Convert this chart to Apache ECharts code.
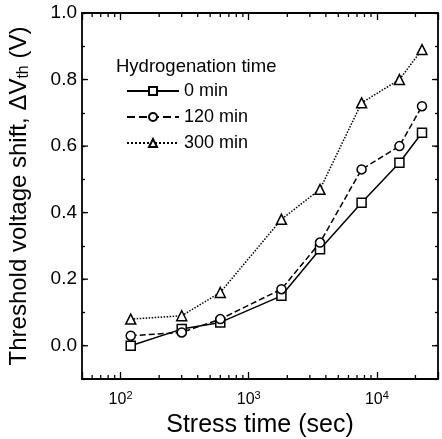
<!DOCTYPE html>
<html>
<head>
<meta charset="utf-8">
<script src="https://cdn.jsdelivr.net/npm/echarts@6/dist/echarts.min.js"></script>
<style>
  html, body { margin: 0; padding: 0; background: #fff; }
  #chart { width: 442px; height: 439px; }
</style>
</head>
<body>
<div id="chart"></div>
<script>
// stress time (sec) and threshold voltage shift (V)
var stressTime = [120, 300, 600, 1800, 3600, 7600, 15000, 22500];
var shift0 = [0.00, 0.05, 0.07, 0.15, 0.29, 0.43, 0.55, 0.64];
var shift120 = [0.03, 0.04, 0.08, 0.17, 0.31, 0.53, 0.60, 0.72];
var shift300 = [0.08, 0.09, 0.16, 0.38, 0.47, 0.73, 0.80, 0.89];
var seriesNames = ["0 min", "120 min", "300 min"];
// minor ticks on the log axis, and labelled ticks on the value axis
var xMinorTicks = [60, 70, 80, 90, 200, 300, 400, 500, 600, 700, 800, 900,
  2000, 3000, 4000, 5000, 6000, 7000, 8000, 9000, 20000];
var yMajorTicks = [0.0, 0.2, 0.4, 0.6, 0.8];

var FONT = "Liberation Sans";
var myChart = echarts.init(document.getElementById("chart"));

function pairs(ys) {
  var out = [];
  for (var i = 0; i < stressTime.length; i++) out.push([stressTime[i], ys[i]]);
  return out;
}

function mkSeries(name, ys, lineType, symbol, size) {
  return {
    name: name,
    type: "line",
    data: pairs(ys),
    symbol: symbol,
    symbolSize: size,
    lineStyle: { color: "#000", width: 1.5, type: lineType },
    itemStyle: { color: "#fff", borderColor: "#000", borderWidth: 1.5 },
    emphasis: { disabled: true },
    z: 3,
  };
}

function tick(x1, y1, x2, y2) {
  return { type: "line", shape: { x1: x1, y1: y1, x2: x2, y2: y2 }, style: { stroke: "#000", lineWidth: 1.3 } };
}

var frameLine = { onZero: false, lineStyle: { color: "#000", width: 1.8 } };

var option = {
  animation: false,
  backgroundColor: "#fff",
  textStyle: { fontFamily: FONT },
  title: {
    text: "Hydrogenation time",
    left: 111,
    top: 52,
    textStyle: { fontFamily: FONT, fontSize: 18.5, fontWeight: "normal", color: "#000" },
  },
  legend: {
    data: seriesNames,
    orient: "vertical",
    left: 121,
    top: 77,
    itemWidth: 52,
    itemHeight: 10,
    itemGap: 8,
    textStyle: { fontFamily: FONT, fontSize: 18, color: "#000", padding: [0, 0, 0, 0] },
    selectedMode: false,
  },
  grid: { left: 82, right: 4, top: 13, bottom: 60, outerBoundsMode: "none" },
  xAxis: [
    {
      type: "log",
      logBase: 10,
      min: 50,
      max: 30000,
      name: "Stress time (sec)",
      nameLocation: "middle",
      nameGap: 33,
      nameTextStyle: { fontFamily: FONT, fontSize: 25, color: "#000" },
      axisLine: frameLine,
      axisTick: { inside: true, length: 7, lineStyle: { color: "#000", width: 1.3 } },
      splitLine: { show: false },
      axisLabel: {
        margin: 11,
        color: "#000",
        fontFamily: FONT,
        fontSize: 16,
        formatter: function (v) {
          var e = Math.round(Math.log10(v));
          if (Math.abs(Math.pow(10, e) - v) > 1e-6 * v) return "";
          return "10{sup|" + e + "}";
        },
        rich: {
          sup: { fontFamily: FONT, fontSize: 11, verticalAlign: "top", padding: [0, 0, 9, 0], color: "#000" },
        },
      },
    },
    {
      type: "log",
      logBase: 10,
      min: 50,
      max: 30000,
      position: "top",
      axisLine: frameLine,
      axisTick: { inside: true, length: 7, lineStyle: { color: "#000", width: 1.3 } },
      axisLabel: { show: false },
      splitLine: { show: false },
    },
  ],
  yAxis: [
    {
      type: "value",
      min: -0.1,
      max: 1.0,
      interval: 0.1,
      name: "Threshold voltage shift, \u0394V{sub|th} (V)",
      nameLocation: "middle",
      nameRotate: 90,
      nameGap: 50,
      nameTextStyle: {
        fontFamily: FONT,
        fontSize: 24,
        color: "#000",
        rich: {
          sub: { fontFamily: FONT, fontSize: 16, color: "#000", verticalAlign: "bottom", padding: [10, 0, 0, 0] },
        },
      },
      axisLine: frameLine,
      axisTick: { inside: true, length: 3, lineStyle: { color: "#000", width: 1.3 } },
      splitLine: { show: false },
      axisLabel: {
        margin: 5,
        color: "#000",
        fontFamily: FONT,
        fontSize: 19,
        formatter: function (v) {
          var k = Math.round(v * 10);
          if (k < 0 || k % 2 !== 0) return "";
          return (k / 10).toFixed(1);
        },
      },
    },
    {
      type: "value",
      min: -0.1,
      max: 1.0,
      interval: 0.1,
      position: "right",
      axisLine: frameLine,
      axisTick: { inside: true, length: 3, lineStyle: { color: "#000", width: 1.3 } },
      axisLabel: { show: false },
      splitLine: { show: false },
    },
  ],
  series: [
    mkSeries(seriesNames[0], shift0, "solid", "rect", 9),
    mkSeries(seriesNames[1], shift120, "dashed", "circle", 9),
    mkSeries(seriesNames[2], shift300, "dotted", "triangle", 10),
    {
      // log minor ticks on bottom and top of the frame
      type: "custom",
      silent: true,
      data: xMinorTicks.map(function (v) { return [v, 0]; }),
      renderItem: function (params, api) {
        var cs = params.coordSys;
        var x = api.coord([api.value(0), 0])[0];
        var yb = cs.y + cs.height;
        return {
          type: "group",
          children: [tick(x, yb, x, yb - 4), tick(x, cs.y, x, cs.y + 4)],
        };
      },
      z: 2,
    },
    {
      // longer ticks at the labelled values, left and right
      type: "custom",
      silent: true,
      data: yMajorTicks.map(function (v) { return [100, v]; }),
      renderItem: function (params, api) {
        var cs = params.coordSys;
        var y = api.coord([100, api.value(1)])[1];
        var xr = cs.x + cs.width;
        return {
          type: "group",
          children: [tick(cs.x, y, cs.x + 6, y), tick(xr, y, xr - 6, y)],
        };
      },
      z: 2,
    },
  ],
};

myChart.setOption(option);
window.addEventListener("resize", myChart.resize);
</script>
</body>
</html>
